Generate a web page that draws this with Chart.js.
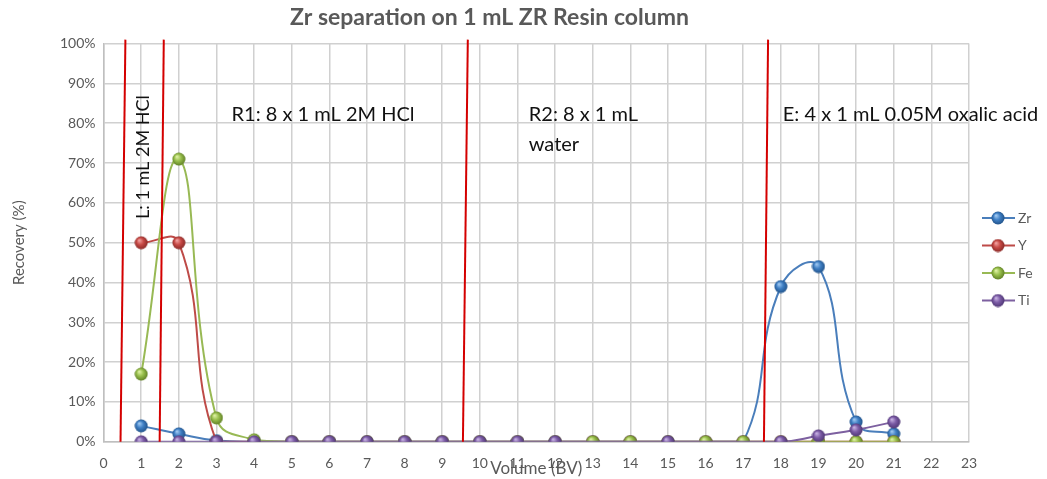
<!DOCTYPE html>
<html>
<head>
<meta charset="utf-8">
<script src="https://cdn.jsdelivr.net/npm/chart.js@4/dist/chart.umd.min.js"></script>
<style>
  html, body { margin: 0; padding: 0; background: #fff; }
  #wrap { width: 1047px; height: 479px; position: relative; }
</style>
</head>
<body>
<div id="wrap"><canvas id="zrChart"></canvas></div>
<script>
// volume in bed volumes
const volumes = [1, 2, 3, 4, 5, 6, 7, 8, 9, 10, 11, 12, 13, 14, 15, 16, 17, 18, 19, 20, 21];

// recovery %
const zrData = [4, 2, 0.3, 0, 0, 0, 0, 0, 0, 0, 0, 0, 0, 0, 0, 0, 0, 39, 44, 5, 2];
const yData  = [50, 50, 0, 0, 0, 0, 0, 0, 0, 0, 0, 0, 0, 0, 0, 0, 0, 0, 0, 0, 0];
const feData = [17, 71, 6, 0.5, 0, 0, 0, 0, 0, 0, 0, 0, 0, 0, 0, 0, 0, 0, 0, 0, 0];
const tiData = [0, 0, 0, 0, 0, 0, 0, 0, 0, 0, 0, 0, null, null, 0, null, null, 0, 1.5, 3, 5];

// fraction boundaries (hand drawn, slightly slanted): [x at top, x at bottom]
const boundaries = [[0.58, 0.45], [1.6, 1.49], [9.68, 9.55], [17.66, 17.55]];

const seriesNames = ['Zr', 'Y', 'Fe', 'Ti'];
const seriesColors = ['#4a7ebb', '#be4b48', '#98b954', '#7d60a0'];
const sphereColors = [
  ['#9cc6f0', '#3f7fc4', '#1f4f85'],
  ['#f0a09e', '#c84a46', '#842724'],
  ['#dcefa0', '#98bf4c', '#5b7a22'],
  ['#c4aee0', '#7c5ca6', '#4b3370']
];

const makeSphere = (cols) => {
  const c = document.createElement('canvas');
  c.width = 14; c.height = 14;
  const g = c.getContext('2d');
  const grad = g.createRadialGradient(5, 4.5, 0.5, 7, 7, 7);
  grad.addColorStop(0, cols[0]);
  grad.addColorStop(0.45, cols[1]);
  grad.addColorStop(1, cols[2]);
  g.fillStyle = grad;
  g.beginPath();
  g.arc(7, 7, 6.5, 0, Math.PI * 2);
  g.fill();
  return c;
};
const spheres = sphereColors.map(makeSphere);

const toPoints = (arr) => volumes.map((v, i) => ({ x: v, y: arr[i] }));
const allSeries = [zrData, yData, feData, tiData];

const datasets = allSeries.map((arr, i) => ({
  label: seriesNames[i],
  data: toPoints(arr),
  borderColor: seriesColors[i],
  borderWidth: 2,
  tension: 0.45,
  spanGaps: true,
  pointStyle: spheres[i],
  pointRadius: 7,
  order: 5 - i
}));

boundaries.forEach((b) => {
  datasets.push({
    label: '_line',
    data: [{ x: b[0], y: 101 }, { x: b[1], y: 0 }],
    borderColor: '#d40000',
    borderWidth: 2,
    pointRadius: 0,
    tension: 0,
    clip: false,
    order: 0
  });
});

const fam = 'Lato, "Liberation Sans", sans-serif';

const annotations = {
  id: 'annotations',
  afterDatasetsDraw(chart) {
    const { ctx, scales: { x, y } } = chart;
    ctx.save();
    ctx.fillStyle = '#111';
    ctx.font = '20px ' + fam;
    ctx.textBaseline = 'middle';
    ctx.textAlign = 'left';
    ctx.fillText('R1: 8 x 1 mL 2M HCl', x.getPixelForValue(3.4), y.getPixelForValue(82.3));
    ctx.fillText('R2: 8 x 1 mL', x.getPixelForValue(11.3), y.getPixelForValue(82.3));
    ctx.fillText('water', x.getPixelForValue(11.3), y.getPixelForValue(74.6));
    ctx.fillText('E: 4 x 1 mL 0.05M oxalic acid', x.getPixelForValue(18.05), y.getPixelForValue(82.3));
    ctx.font = '18px ' + fam;
    ctx.translate(x.getPixelForValue(1.05), y.getPixelForValue(71.5));
    ctx.rotate(-Math.PI / 2);
    ctx.textAlign = 'center';
    ctx.fillText('L: 1 mL 2M HCl', 0, 0);
    ctx.restore();
  }
};

const sideLegend = {
  id: 'sideLegend',
  afterDraw(chart) {
    const { ctx } = chart;
    ctx.save();
    ctx.font = '14px ' + fam;
    ctx.textBaseline = 'middle';
    seriesNames.forEach((name, i) => {
      const yy = 218 + i * 27.5;
      ctx.strokeStyle = seriesColors[i];
      ctx.lineWidth = 2;
      ctx.beginPath();
      ctx.moveTo(982, yy);
      ctx.lineTo(1015, yy);
      ctx.stroke();
      ctx.drawImage(spheres[i], 991, yy - 7);
      ctx.fillStyle = '#595959';
      ctx.fillText(name, 1018, yy);
    });
    ctx.restore();
  }
};

new Chart(document.getElementById('zrChart'), {
  type: 'line',
  data: { datasets },
  options: {
    responsive: true,
    maintainAspectRatio: false,
    animation: false,
    layout: { padding: { left: 10, right: 78, top: 2, bottom: 0 } },
    plugins: {
      legend: { display: false },
      tooltip: { enabled: false },
      title: {
        display: true,
        text: 'Zr separation on 1 mL ZR Resin column',
        color: '#595959',
        font: { family: fam, size: 23, weight: 'bold' },
        padding: { top: 2, bottom: 12 }
      }
    },
    scales: {
      x: {
        type: 'linear',
        min: 0,
        max: 23,
        ticks: {
          stepSize: 1,
          color: '#595959',
          font: { family: fam, size: 14 },
          padding: 13
        },
        grid: { color: '#d0d0d0', lineWidth: 1.5, drawTicks: false },
        border: { color: '#bfbfbf', width: 1.5 },
        title: {
          display: true,
          text: 'Volume (BV)',
          color: '#595959',
          font: { family: fam, size: 17 },
          padding: { top: -26, bottom: 0 }
        }
      },
      y: {
        min: 0,
        max: 100,
        ticks: {
          stepSize: 10,
          color: '#595959',
          font: { family: fam, size: 14 },
          callback: (v) => v + '%',
          padding: 8
        },
        grid: { color: '#d0d0d0', lineWidth: 1.5, drawTicks: false },
        border: { color: '#bfbfbf', width: 1.5 },
        title: {
          display: true,
          text: 'Recovery (%)',
          color: '#595959',
          font: { family: fam, size: 15 },
          padding: { top: 0, bottom: 24 }
        }
      }
    }
  },
  plugins: [annotations, sideLegend]
});
</script>
</body>
</html>
